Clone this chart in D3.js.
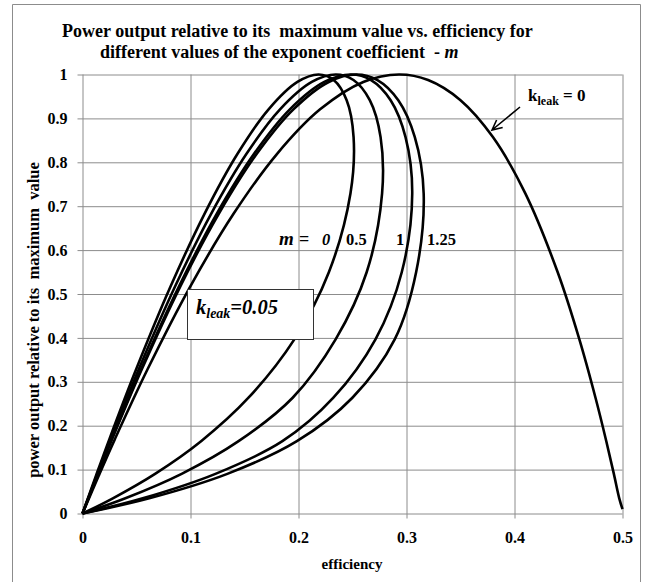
<!DOCTYPE html>
<html>
<head>
<meta charset="utf-8">
<script src="https://cdn.jsdelivr.net/npm/d3@7"></script>
<style>
  html, body { margin: 0; padding: 0; background: #fff; }
  svg text { font-family: "Liberation Serif", "Times New Roman", serif; font-weight: bold; fill: #000; white-space: pre; }
</style>
</head>
<body>
<svg id="chart" width="648" height="582"></svg>
<script>
// ---- data ----
const xTicks = [0, 0.1, 0.2, 0.3, 0.4, 0.5];
const yTicks = [0, 0.1, 0.2, 0.3, 0.4, 0.5, 0.6, 0.7, 0.8, 0.9, 1];
const xTickLabels = ["0", "0.1", "0.2", "0.3", "0.4", "0.5"];
const yTickLabels = ["0", "0.1", "0.2", "0.3", "0.4", "0.5", "0.6", "0.7", "0.8", "0.9", "1"];

// k_leak = 0 curve
const effK0 = [0, 0.015, 0.03, 0.06, 0.10, 0.14, 0.18, 0.22, 0.26, 0.293, 0.32, 0.35, 0.38, 0.41, 0.44, 0.46, 0.475, 0.485, 0.492, 0.497, 0.5];
const powK0 = [0, 0.0861, 0.1695, 0.3274, 0.5181, 0.6832, 0.8188, 0.9206, 0.9830, 1.0, 0.9874, 0.9415, 0.8574, 0.7291, 0.5495, 0.3972, 0.2637, 0.1647, 0.0903, 0.0346, 0.01];

// k_leak = 0.05 loops, one per exponent m (points go round each loop)
const mValues = ["0", "0.5", "1", "1.25"];
const loopPower = [0, 0.0861, 0.1695, 0.3274, 0.5181, 0.6832, 0.8188, 0.9206, 0.9830, 1.0, 0.9874, 0.9415, 0.8574, 0.7291, 0.5495, 0.3972, 0.2637, 0.1647, 0.0903, 0.0346, 0];
const effM0   = [0, 0.0125, 0.0249, 0.0495, 0.0817, 0.1131, 0.1434, 0.1723, 0.1990, 0.2186, 0.2326, 0.2446, 0.2510, 0.2481, 0.2281, 0.1963, 0.1537, 0.1098, 0.0672, 0.0281, 0];
const effM05  = [0, 0.0131, 0.0261, 0.0519, 0.0859, 0.1192, 0.1517, 0.1829, 0.2123, 0.2345, 0.2509, 0.2660, 0.2760, 0.2774, 0.2631, 0.2345, 0.1946, 0.1445, 0.0918, 0.0397, 0];
const effM1   = [0, 0.0136, 0.0271, 0.0540, 0.0895, 0.1244, 0.1587, 0.1920, 0.2239, 0.2485, 0.2672, 0.2853, 0.2991, 0.3053, 0.2956, 0.2714, 0.2323, 0.1851, 0.1231, 0.0558, 0];
const effM125 = [0, 0.0137, 0.0274, 0.0547, 0.0907, 0.1263, 0.1612, 0.1953, 0.2280, 0.2535, 0.2731, 0.2924, 0.3077, 0.3159, 0.3089, 0.2892, 0.2499, 0.1985, 0.1341, 0.0618, 0];
const loopEffs = [effM0, effM05, effM1, effM125];

// ---- drawing ----
const svg = d3.select("#chart");
const x = d3.scaleLinear().domain([0, 0.5]).range([82.5, 622.5]);
const y = d3.scaleLinear().domain([0, 1]).range([513.5, 74.5]);

// outer frame
svg.append("path")
  .attr("d", "M12.5,590 V4.5 H640.5 V590")
  .attr("fill", "none").attr("stroke", "#8c8c8c").attr("stroke-width", 1);

// title
const title = svg.append("text").attr("font-size", 18);
title.append("tspan").attr("x", 62).attr("y", 37)
  .text("Power output relative to its  maximum value vs. efficiency for");
const t2 = title.append("tspan").attr("x", 100).attr("y", 58);
t2.append("tspan").text("different values of the exponent coefficient  - ");
t2.append("tspan").attr("font-style", "italic").text("m");

// gridlines + tick labels via axes
const gridColor = "#8c8c8c";
const gx = svg.append("g")
  .attr("transform", `translate(0,${y(0) + 5})`)
  .call(d3.axisBottom(x).tickValues(xTicks)
    .tickSize(-(y(0) + 5 - y(1))).tickPadding(13)
    .tickFormat((d, i) => xTickLabels[i]));
const gy = svg.append("g")
  .attr("transform", `translate(${x(0) - 5},0)`)
  .call(d3.axisLeft(y).tickValues(yTicks)
    .tickSize(-(x(0.5) - x(0) + 5)).tickPadding(10)
    .tickFormat((d, i) => yTickLabels[i]));
[gx, gy].forEach(g => {
  g.select(".domain").remove();
  g.selectAll(".tick line").attr("stroke", gridColor).attr("stroke-width", 1);
  g.selectAll(".tick text").attr("font-size", 16)
    .attr("font-family", "'Liberation Serif', serif").attr("font-weight", "bold").attr("fill", "#000");
});

// axis titles
svg.append("text").attr("x", 352).attr("y", 569).attr("text-anchor", "middle")
  .attr("font-size", 15).text("efficiency");
svg.append("text").attr("transform", "translate(39,320) rotate(-90)")
  .attr("text-anchor", "middle").attr("font-size", 16.5)
  .text("power output relative to its  maximum  value");

// curves
const line = d3.line().x(d => x(d[0])).y(d => y(d[1])).curve(d3.curveCatmullRom.alpha(0.5));
const curves = svg.append("g").attr("fill", "none").attr("stroke", "#000").attr("stroke-width", 2.6)
  .attr("stroke-linejoin", "round");
curves.append("path").attr("d", line(effK0.map((e, i) => [e, powK0[i]])));
loopEffs.forEach(arr => {
  curves.append("path").attr("d", line(arr.map((e, i) => [e, loopPower[i]])));
});

// m labels
const mLab = svg.append("g").attr("font-size", 16.5);
mLab.append("text").attr("x", 279).attr("y", 245).attr("font-style", "italic").attr("font-size", 19).text("m");
mLab.append("text").attr("x", 299).attr("y", 245).attr("font-size", 18).text("=");
mLab.append("text").attr("x", 322).attr("y", 245).attr("font-style", "italic").text(mValues[0]);
mLab.append("text").attr("x", 346).attr("y", 245).text(mValues[1]);
mLab.append("text").attr("x", 396).attr("y", 245).text(mValues[2]);
mLab.append("text").attr("x", 427).attr("y", 245).text(mValues[3]);

// k_leak = 0.05 box
svg.append("rect").attr("x", 187.5).attr("y", 289.5).attr("width", 126).attr("height", 50)
  .attr("fill", "#fff").attr("stroke", "#333").attr("stroke-width", 1);
const kb = svg.append("text").attr("x", 196).attr("y", 314).attr("font-style", "italic").attr("font-size", 20.5);
kb.append("tspan").text("k");
kb.append("tspan").attr("font-size", 14).attr("dy", 4).text("leak");
kb.append("tspan").attr("dy", -4).text("=0.05");

// k_leak = 0 label and arrow
const k0 = svg.append("text").attr("x", 528).attr("y", 101).attr("font-size", 17);
k0.append("tspan").text("k");
k0.append("tspan").attr("font-size", 12).attr("dy", 4).text("leak");
k0.append("tspan").attr("dy", -4).text(" = 0");

const ax0 = 520, ay0 = 107, ax1 = 492, ay1 = 130;
const ang = Math.atan2(ay0 - ay1, ax0 - ax1);
const hl = 11, spread = 0.45;
svg.append("path")
  .attr("d", `M${ax0},${ay0} L${ax1},${ay1} M${ax1 + hl * Math.cos(ang - spread)},${ay1 + hl * Math.sin(ang - spread)} L${ax1},${ay1} L${ax1 + hl * Math.cos(ang + spread)},${ay1 + hl * Math.sin(ang + spread)}`)
  .attr("fill", "none").attr("stroke", "#000").attr("stroke-width", 1.6);
</script>
</body>
</html>
